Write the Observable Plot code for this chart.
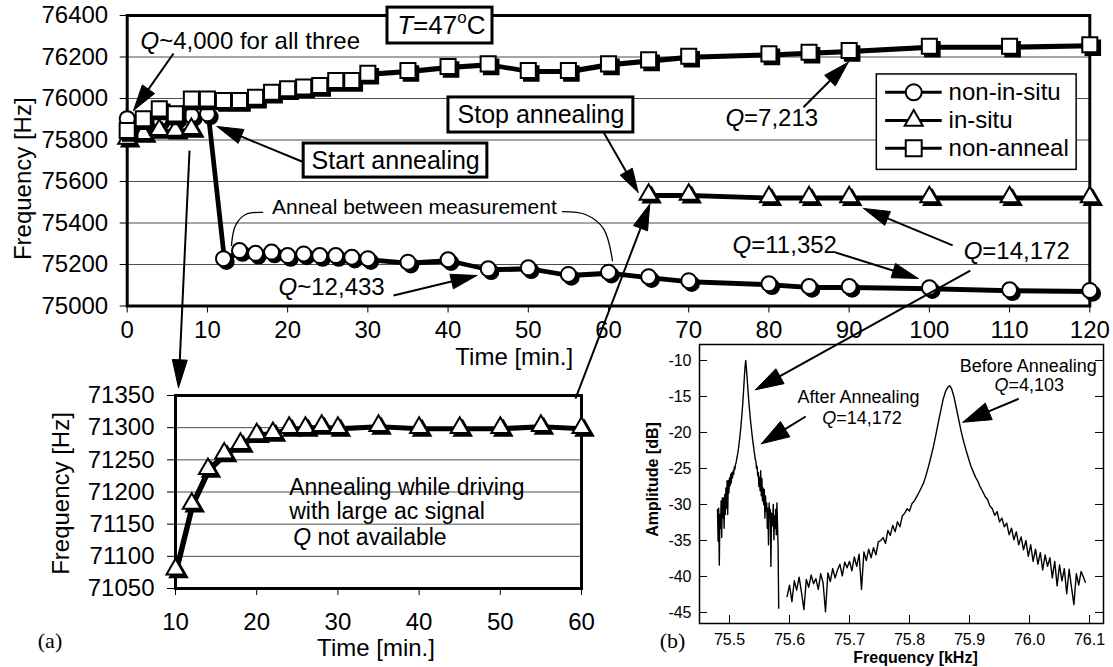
<!DOCTYPE html>
<html><head><meta charset="utf-8">
<script src="https://cdn.jsdelivr.net/npm/d3@7"></script>
<script src="https://cdn.jsdelivr.net/npm/@observablehq/plot@0.6"></script>
<style>
body{margin:0;background:#fff;}
#fig{position:relative;width:1113px;height:667px;overflow:hidden;background:#fff;}
#fig svg{position:absolute;left:0;top:0;}
</style></head><body><div id="fig"></div>
<script>
// ---------- DATA ----------
// Main chart (a): frequency vs time at T=47 C
const nonInSituT = [0,2,4,6,8,10,12,14,16,18,20,22,24,26,28,30,35,40,45,50,55,60,65,70,80,85,90,100,110,120];
const nonInSituF = [75903,75890,75900,75905,75918,75926,75228,75267,75254,75260,75243,75251,75243,75243,75235,75228,75211,75223,75179,75184,75152,75163,75141,75122,75107,75094,75094,75088,75078,75075];
const inSituT1 = [0,2,4,6,8];
const inSituF1 = [75807,75830,75849,75845,75854];
const inSituT2 = [65,70,80,85,90,100,110,120];
const inSituF2 = [75537,75537,75525,75525,75525,75525,75525,75525];
const nonAnnealT = [0,2,4,6,8,10,12,14,16,18,20,22,24,26,28,30,35,40,45,50,55,60,65,70,80,85,90,100,110,120];
const nonAnnealF = [75846,75902,75950,75926,75998,75998,75990,75990,76006,76030,76047,76055,76063,76087,76087,76122,76135,76154,76167,76135,76135,76167,76186,76204,76215,76223,76231,76252,76252,76259];
const mainXTicks = [0,10,20,30,40,50,60,70,80,90,100,110,120];
const mainYTicks = [75000,75200,75400,75600,75800,76000,76200,76400];

// Inset: in-situ annealing while driving
const insetT = [10,12,14,16,18,20,22,24,26,28,30,35,40,45,50,55,60];
const insetF = [71080,71182,71236,71260,71275,71290,71292,71300,71300,71303,71300,71303,71300,71300,71300,71303,71300];
const insetXTicks = [10,20,30,40,50,60];
const insetYTicks = [71050,71100,71150,71200,71250,71300,71350];

// Spectrum (b)
const afterFreq = [75.480,75.481,75.482,75.483,75.484,75.485,75.486,75.487,75.488,75.489,75.490,75.491,75.492,75.493,75.494,75.495,75.496,75.497,75.498,75.499,75.500,75.501,75.502,75.503,75.504,75.505,75.506,75.507,75.508,75.509,75.510,75.511,75.512,75.513,75.514,75.515,75.516,75.517,75.518,75.519,75.520,75.521,75.522,75.523,75.524,75.525,75.526,75.527,75.528,75.529,75.530,75.531,75.532,75.533,75.534,75.535,75.536,75.537,75.538,75.539,75.540,75.541,75.542,75.543,75.544,75.545,75.546,75.547,75.548,75.549,75.550,75.551,75.552,75.553,75.554,75.555,75.556,75.557,75.558,75.559,75.560,75.561,75.562,75.563,75.564,75.565,75.566,75.567,75.568,75.569,75.570,75.571,75.572,75.573,75.574,75.575,75.576,75.577,75.578,75.579,75.580,75.581,75.582];
const afterAmp = [-30.7,-35.1,-30.5,-38.4,-31.4,-33.3,-29.5,-34.6,-29.1,-31.9,-29.1,-33.3,-28.6,-31.4,-27.7,-30.5,-26.7,-31.4,-26.7,-28.4,-26.3,-27.4,-25.8,-27.0,-25.6,-26.3,-25.3,-25.8,-24.8,-25.1,-24.4,-24.2,-23.7,-23.2,-22.8,-22.2,-21.5,-20.8,-20.0,-19.2,-18.2,-17.2,-16.1,-14.8,-13.4,-12.0,-10.8,-10.0,-10.9,-12.0,-13.2,-14.4,-15.5,-16.5,-17.4,-18.3,-19.1,-19.9,-20.6,-21.3,-21.9,-22.6,-23.1,-23.8,-24.0,-25.0,-24.7,-26.0,-25.6,-27.5,-26.2,-28.1,-25.3,-28.8,-26.4,-29.5,-27.7,-30.0,-27.9,-31.9,-28.8,-30.9,-29.8,-33.3,-30.5,-35.6,-29.8,-31.9,-30.7,-38.6,-31.2,-33.0,-31.9,-30.0,-34.9,-31.6,-33.3,-30.7,-34.2,-29.8,-32.8,-36.0,-44.4];
const beforeFreq = [75.596,75.600,75.604,75.608,75.612,75.616,75.620,75.624,75.628,75.632,75.636,75.640,75.644,75.648,75.652,75.656,75.660,75.664,75.668,75.672,75.676,75.680,75.684,75.688,75.692,75.696,75.700,75.704,75.708,75.712,75.716,75.720,75.724,75.728,75.732,75.736,75.740,75.744,75.748,75.752,75.756,75.760,75.764,75.768,75.772,75.776,75.780,75.784,75.788,75.792,75.796,75.800,75.804,75.808,75.812,75.816,75.820,75.824,75.828,75.832,75.836,75.840,75.844,75.848,75.852,75.856,75.860,75.864,75.867,75.870,75.874,75.878,75.882,75.886,75.890,75.894,75.898,75.902,75.906,75.910,75.914,75.918,75.922,75.926,75.930,75.934,75.938,75.942,75.946,75.950,75.954,75.958,75.962,75.966,75.970,75.974,75.978,75.982,75.986,75.990,75.994,75.998,76.002,76.006,76.010,76.014,76.018,76.022,76.026,76.030,76.034,76.038,76.042,76.046,76.050,76.054,76.058,76.062,76.066,76.070,76.074,76.078,76.082,76.086,76.090,76.093];
const beforeAmp = [-42.8,-41.2,-43.5,-40.6,-41.9,-40.1,-42.2,-44.6,-40.4,-41.5,-39.8,-41.0,-40.3,-41.8,-39.6,-40.9,-44.9,-39.5,-40.7,-38.9,-40.2,-39.1,-38.3,-39.9,-38.0,-38.8,-37.9,-39.2,-37.3,-38.6,-36.9,-41.8,-36.6,-37.8,-36.2,-37.4,-36.0,-37.0,-35.2,-35.0,-34.6,-35.4,-33.6,-34.3,-32.9,-33.8,-32.4,-33.1,-31.6,-31.2,-30.6,-30.9,-29.9,-29.5,-28.9,-28.3,-27.6,-26.9,-25.8,-24.6,-23.3,-21.9,-20.3,-18.6,-17.0,-15.4,-14.3,-13.7,-13.5,-13.9,-15.0,-16.6,-18.2,-19.8,-21.2,-22.4,-23.5,-24.6,-25.4,-26.2,-26.8,-27.6,-28.2,-28.9,-29.3,-30.2,-30.6,-31.5,-31.0,-32.4,-31.9,-33.1,-32.6,-34.2,-33.3,-34.9,-33.8,-35.6,-34.5,-36.3,-35.0,-37.2,-35.6,-37.9,-36.2,-38.3,-36.7,-39.1,-37.0,-38.6,-37.4,-40.2,-37.9,-41.3,-38.4,-40.6,-38.9,-42.4,-39.0,-41.5,-43.9,-39.6,-41.2,-39.3,-40.1,-40.8];
const specXTicks = [75.5,75.6,75.7,75.8,75.9,76.0,76.1];
const specYTicks = [-10,-15,-20,-25,-30,-35,-40,-45];

// Legend
const legendLabels = ["non-in-situ","in-situ","non-anneal"];
const legendY = [76030,75894,75760];

// Annotations (main chart coordinates)
const qLabelX = [3.99,21.2,76.9,77.8,106.6];
const qLabelY = [76275,75089,75904,75292,75263];
const qLabelRest = ["~4,000 for all three","~12,433","=7,213","=11,352","=14,172"];
const boxedText = ["Start annealing","Stop annealing"];
const boxedX = [33.47,51.58];
const boxedY = [75701,75920];
const boxX1 = [32.45,22.0,40.05], boxX2 = [45.54,44.9,63.1];
const boxY1 = [76265,75619,75836], boxY2 = [76438,75783,76005];
const leaderSide = ["L","L","L","L","R","R","R","R"];
const leaderX = [16.87,14.75,13.5,13.0,54.26,57.13,59.37,60.49];
const leaderY = [75451,75441,75388,75292,75455,75441,75373,75219];
// arrows: [fromPanel, x, y, toPanel, x, y, headLength, headHalfWidth]
const arrowSpecs = [
  ["main",5.77,76217,"main",0.79,75942,26,7.5],
  ["main",22.0,75693,"main",11.2,75865,26,7.5],
  ["main",59.4,75836,"main",63.7,75547,24,7],
  ["main",33.2,75051,"main",43.6,75147,26,7.5],
  ["main",84.3,75958,"main",89.9,76175,26,7.5],
  ["main",88.3,75258,"main",98.6,75133,26,7.5],
  ["main",102.9,75292,"main",91.8,75470,26,7.5],
  ["main",105.1,75171,"spec",75.5433,-14.07,28,8.5],
  ["main",7.77,75749,"inset",10.37,71362,28,7.5],
  ["inset",59.26,71345,"main",65.15,75492,26,7.5],
  ["spec",75.627,-17.78,"spec",75.553,-21.57,28,9],
  ["spec",75.982,-15.32,"spec",75.889,-18.57,28,9]
];

// ---------- DRAW ----------
const FONT = '"Liberation Sans", Arial, Helvetica, sans-serif';
const SERIF = '"Liberation Serif", "Times New Roman", serif';
const W = 1113, H = 667;

function seriesMarks(T, F) {
  return [
    Plot.line(T, {x: d => d, y: (d, i) => F[i], dx: 2, dy: 2, stroke: "black", strokeWidth: 3}),
    Plot.line(T, {x: d => d, y: (d, i) => F[i], stroke: "black", strokeWidth: 3})
  ];
}
function dotMarks(T, F, symbol, r) {
  return [
    Plot.dot(T, {x: d => d, y: (d, i) => F[i], symbol, r, dx: 3, dy: 3, fill: "black", stroke: "black", strokeWidth: 1.5}),
    Plot.dot(T, {x: d => d, y: (d, i) => F[i], symbol, r, fill: "white", stroke: "black", strokeWidth: 2})
  ];
}
const C = {textAnchor: "middle", lineAnchor: "middle"};

const main = Plot.plot({
  width: W, height: H,
  marginLeft: 126.7, marginRight: 23.7, marginTop: 15, marginBottom: 361.5,
  style: {background: "white", fontFamily: FONT, fontSize: "24px", color: "black"},
  x: {domain: [0, 120], ticks: mainXTicks, tickSize: 7, tickPadding: 8, label: null},
  y: {domain: [75000, 76400], ticks: mainYTicks, tickSize: 7, tickPadding: 12, tickFormat: d => String(d), label: null},
  marks: [
    Plot.ruleY(mainYTicks.slice(1, -1), {stroke: "#4d4d4d", strokeWidth: 1}),
    Plot.frame({stroke: "black", strokeWidth: 3}),
    Plot.line(leaderX, {x: d => d, y: (d, i) => leaderY[i], z: (d, i) => leaderSide[i], curve: "catmull-rom", stroke: "black", strokeWidth: 1.3}),
    ...seriesMarks(nonInSituT, nonInSituF),
    ...seriesMarks(inSituT1, inSituF1),
    ...seriesMarks(inSituT2, inSituF2),
    ...seriesMarks(nonAnnealT, nonAnnealF),
    ...dotMarks(nonInSituT, nonInSituF, "circle", 7.5),
    ...dotMarks(inSituT1, inSituF1, "triangle", 6.7),
    ...dotMarks(inSituT2, inSituF2, "triangle", 6.7),
    ...dotMarks(nonAnnealT, nonAnnealF, "square", 8.5),
    // boxes
    Plot.rect(boxX1, {x1: d => d, x2: (d, i) => boxX2[i], y1: (d, i) => boxY1[i], y2: (d, i) => boxY2[i], fill: "white", stroke: "black", strokeWidth: 3}),
    // T=47oC
    Plot.text([0], {x: 33.66, y: 76352, text: () => "T", textAnchor: "start", fontStyle: "italic", fontSize: 26}),
    Plot.text([0], {x: 33.66, y: 76352, text: () => "=47", textAnchor: "start", dx: 15.9, fontSize: 26}),
    Plot.text([0], {x: 33.66, y: 76352, text: () => "o", textAnchor: "start", dx: 60, dy: -8, fontSize: 17}),
    Plot.text([0], {x: 33.66, y: 76352, text: () => "C", textAnchor: "start", dx: 69.5, fontSize: 26}),
    // boxed texts
    Plot.text(boxedText, {x: (d, i) => boxedX[i], y: (d, i) => boxedY[i], text: d => d, fontSize: 25}),
    // Q labels
    Plot.text(qLabelX, {x: d => d, y: (d, i) => qLabelY[i], text: () => "Q", textAnchor: "end", fontStyle: "italic", fontSize: 24}),
    Plot.text(qLabelX, {x: d => d, y: (d, i) => qLabelY[i], text: (d, i) => qLabelRest[i], textAnchor: "start", fontSize: 24}),
    Plot.text(["Anneal between measurement"], {x: 35.8, y: 75477, text: d => d, fontSize: 21}),
    // legend
    Plot.rect([0], {x1: 93.45, x2: 118.36, y1: 75656, y2: 76116, fill: "white", stroke: "black", strokeWidth: 1.5}),
    Plot.ruleY(legendY, {x1: 94.55, x2: 101.6, stroke: "black", strokeWidth: 3}),
    Plot.dot([legendY[0]], {x: 98.05, y: d => d, symbol: "circle", r: 8, fill: "white", stroke: "black", strokeWidth: 2}),
    Plot.dot([legendY[1]], {x: 98.05, y: d => d, symbol: "triangle", r: 6.7, fill: "white", stroke: "black", strokeWidth: 2}),
    Plot.dot([legendY[2]], {x: 98.05, y: d => d, symbol: "square", r: 9, fill: "white", stroke: "black", strokeWidth: 2}),
    Plot.text(legendLabels, {x: 102.4, y: (d, i) => legendY[i], text: d => d, textAnchor: "start", fontSize: 24}),
    // axis labels
    Plot.text(["Frequency [Hz]"], {...C, frameAnchor: "left", dx: -104, dy: 18, rotate: -90, text: d => d, fontSize: 24}),
    Plot.text(["Time [min.]"], {...C, frameAnchor: "bottom-left", dx: 387, dy: 51, text: d => d, fontSize: 24})
  ]
});

const inset = Plot.plot({
  width: W, height: H,
  marginLeft: 175, marginRight: 532, marginTop: 395, marginBottom: 79,
  style: {background: "transparent", fontFamily: FONT, fontSize: "24px", color: "black"},
  x: {domain: [10, 60], ticks: insetXTicks, tickSize: 7, tickPadding: 17, label: null},
  y: {domain: [71050, 71350], ticks: insetYTicks, tickSize: 8, tickPadding: 13, tickFormat: d => String(d), label: null},
  marks: [
    Plot.ruleY(insetYTicks.slice(1, -1), {stroke: "#4d4d4d", strokeWidth: 1}),
    Plot.frame({stroke: "black", strokeWidth: 3}),
    ...seriesMarks(insetT, insetF),
    ...dotMarks(insetT, insetF, "triangle", 6.7),
    Plot.text(["Annealing while driving", "with large ac signal"], {x: 24.0, y: (d, i) => [71207, 71170][i], text: d => d, textAnchor: "start", fontSize: 23}),
    Plot.text(["Q"], {x: 26.7, y: 71129, text: d => d, textAnchor: "end", fontStyle: "italic", fontSize: 23}),
    Plot.text([" not available"], {x: 26.7, y: 71129, text: d => d, textAnchor: "start", fontSize: 23}),
    Plot.text(["Frequency [Hz]"], {...C, frameAnchor: "left", dx: -114, dy: 1.5, rotate: -90, text: d => d, fontSize: 24}),
    Plot.text(["Time [min.]"], {...C, frameAnchor: "bottom", dx: -2.5, dy: 60, text: d => d, fontSize: 24}),
    Plot.text(["(a)"], {...C, frameAnchor: "bottom-left", dx: -125.5, dy: 52, text: d => d, fontFamily: SERIF, fontSize: 22})
  ]
});

const xDom = [75.45, 76.1233], yDom = [-46.53, -7.78];
const tickLenX = 8 * (xDom[1] - xDom[0]) / (W - 699 - 10);
const tickLenY = 8 * (yDom[1] - yDom[0]) / (H - 344 - 44);
const spec = Plot.plot({
  width: W, height: H,
  marginLeft: 699, marginRight: 10, marginTop: 344, marginBottom: 44,
  style: {background: "transparent", fontFamily: FONT, fontSize: "16px", color: "black"},
  x: {domain: xDom, ticks: specXTicks, tickSize: 0, tickPadding: 10, tickFormat: d => d.toFixed(1), label: null},
  y: {domain: yDom, ticks: specYTicks, tickSize: 0, tickPadding: 8, tickFormat: d => String(d), label: null},
  marks: [
    Plot.frame({stroke: "black", strokeWidth: 1.5}),
    Plot.ruleY(specYTicks, {x1: xDom[0], x2: xDom[0] + tickLenX, stroke: "black", strokeWidth: 1}),
    Plot.ruleY(specYTicks, {x1: xDom[1] - tickLenX, x2: xDom[1], stroke: "black", strokeWidth: 1}),
    Plot.ruleX(specXTicks, {y1: yDom[0], y2: yDom[0] + tickLenY, stroke: "black", strokeWidth: 1}),
    Plot.line(afterFreq, {x: d => d, y: (d, i) => afterAmp[i], stroke: "black", strokeWidth: 1.4}),
    Plot.line(beforeFreq, {x: d => d, y: (d, i) => beforeAmp[i], stroke: "black", strokeWidth: 1.4}),
    Plot.text(["After Annealing"], {x: 75.715, y: -15.14, text: d => d, fontSize: 18}),
    Plot.text(["Q"], {x: 75.678, y: -18.06, text: d => d, textAnchor: "end", fontStyle: "italic", fontSize: 18}),
    Plot.text(["=14,172"], {x: 75.678, y: -18.06, text: d => d, textAnchor: "start", fontSize: 18}),
    Plot.text(["Before Annealing"], {x: 75.998, y: -10.8, text: d => d, fontSize: 18}),
    Plot.text(["Q"], {x: 75.965, y: -13.43, text: d => d, textAnchor: "end", fontStyle: "italic", fontSize: 18}),
    Plot.text(["=4,103"], {x: 75.965, y: -13.43, text: d => d, textAnchor: "start", fontSize: 18}),
    Plot.text(["Amplitude [dB]"], {...C, frameAnchor: "left", dx: -47, dy: -4.5, rotate: -90, text: d => d, fontSize: 16, fontWeight: "bold"}),
    Plot.text(["Frequency [kHz]"], {...C, frameAnchor: "bottom", dx: 14, dy: 34, text: d => d, fontSize: 16, fontWeight: "bold"}),
    Plot.text(["(b)"], {...C, frameAnchor: "bottom-left", dx: -27, dy: 17, text: d => d, fontFamily: SERIF, fontSize: 22})
  ]
});

const charts = {main, inset, spec};
function px(panel, x, y) {
  const c = charts[panel];
  return [c.scale("x").apply(x), c.scale("y").apply(y)];
}
const shafts = [], heads = [];
arrowSpecs.forEach((a, i) => {
  const [sx, sy] = px(a[0], a[1], a[2]);
  const [tx, ty] = px(a[3], a[4], a[5]);
  const L = a[6], w = a[7];
  const len = Math.hypot(tx - sx, ty - sy);
  const ux = (tx - sx) / len, uy = (ty - sy) / len;
  const bx = tx - ux * L, by = ty - uy * L;
  shafts.push({x1: sx, y1: sy, x2: bx + ux * 2, y2: by + uy * 2});
  heads.push({id: i, x: tx, y: ty}, {id: i, x: bx - uy * w, y: by + ux * w}, {id: i, x: bx + uy * w, y: by - ux * w}, {id: i, x: tx, y: ty});
});
const overlay = Plot.plot({
  width: W, height: H, margin: 0,
  style: {background: "transparent"},
  x: {domain: [0, W], range: [0, W], axis: null},
  y: {domain: [0, H], range: [0, H], axis: null},
  marks: [
    Plot.link(shafts, {x1: "x1", y1: "y1", x2: "x2", y2: "y2", stroke: "black", strokeWidth: 2}),
    Plot.line(heads, {x: "x", y: "y", z: "id", fill: "black", stroke: "black", strokeWidth: 1, strokeLinejoin: "miter"})
  ]
});
const fig = document.getElementById("fig");
fig.append(main, inset, spec, overlay);
</script>
</body></html>
